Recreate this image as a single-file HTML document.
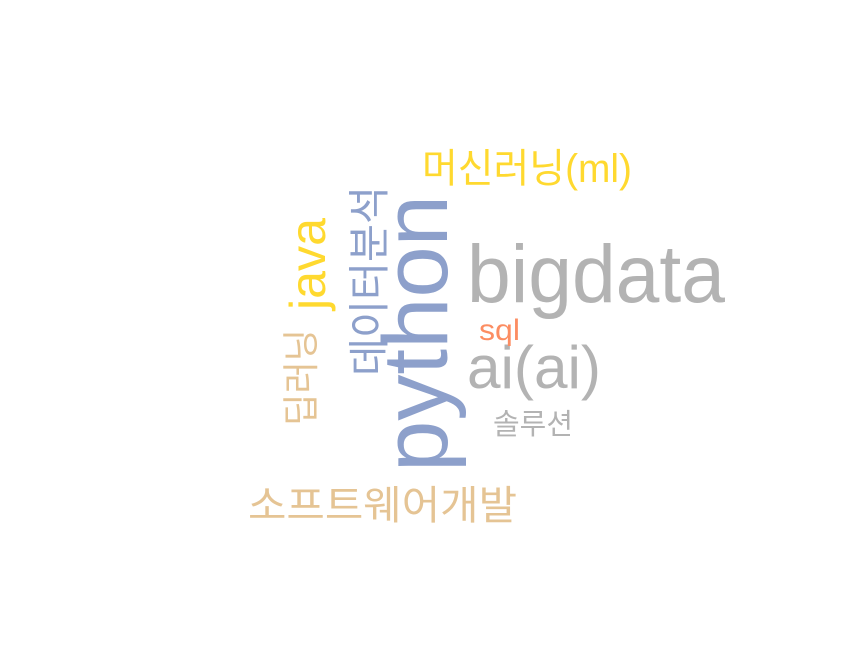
<!DOCTYPE html>
<html><head><meta charset="utf-8">
<style>
html,body{margin:0;padding:0;background:#fff;}
svg{display:block;}
text{font-family:"Liberation Sans","Noto Sans CJK KR",sans-serif;}
</style></head>
<body>
<svg width="843" height="669" viewBox="0 0 843 669">
  <text transform="translate(447,195) rotate(-90)" x="-277" y="0" font-size="92" fill="#8DA0CB" textLength="277" lengthAdjust="spacingAndGlyphs">python</text>
  <text x="467" y="302" font-size="82" fill="#B3B3B3" textLength="258" lengthAdjust="spacingAndGlyphs">bigdata</text>
  <text x="467" y="388" font-size="60" fill="#B3B3B3" textLength="134" lengthAdjust="spacingAndGlyphs">ai(ai)</text>
  <text x="422" y="182" font-size="40" fill="#FFD92F" textLength="210" lengthAdjust="spacingAndGlyphs">머신러닝(ml)</text>
  <text transform="translate(325,310) rotate(-90)" x="0" y="0" font-size="50" fill="#FFD92F" textLength="92" lengthAdjust="spacingAndGlyphs">java</text>
  <text transform="translate(384,376) rotate(-90)" x="0" y="0" font-size="42" fill="#8DA0CB" textLength="190" lengthAdjust="spacingAndGlyphs">데이터분석</text>
  <text transform="translate(314,426) rotate(-90)" x="0" y="0" font-size="37" fill="#E5C494" textLength="97" lengthAdjust="spacingAndGlyphs">딥러닝</text>
  <text x="479" y="340" font-size="30" fill="#FC8D62" textLength="41" lengthAdjust="spacingAndGlyphs">sql</text>
  <text x="493" y="434" font-size="29" fill="#B3B3B3" textLength="80" lengthAdjust="spacingAndGlyphs">솔루션</text>
  <text x="248" y="519" font-size="40" fill="#E5C494" textLength="269" lengthAdjust="spacingAndGlyphs">소프트웨어개발</text>
</svg>
</body></html>
